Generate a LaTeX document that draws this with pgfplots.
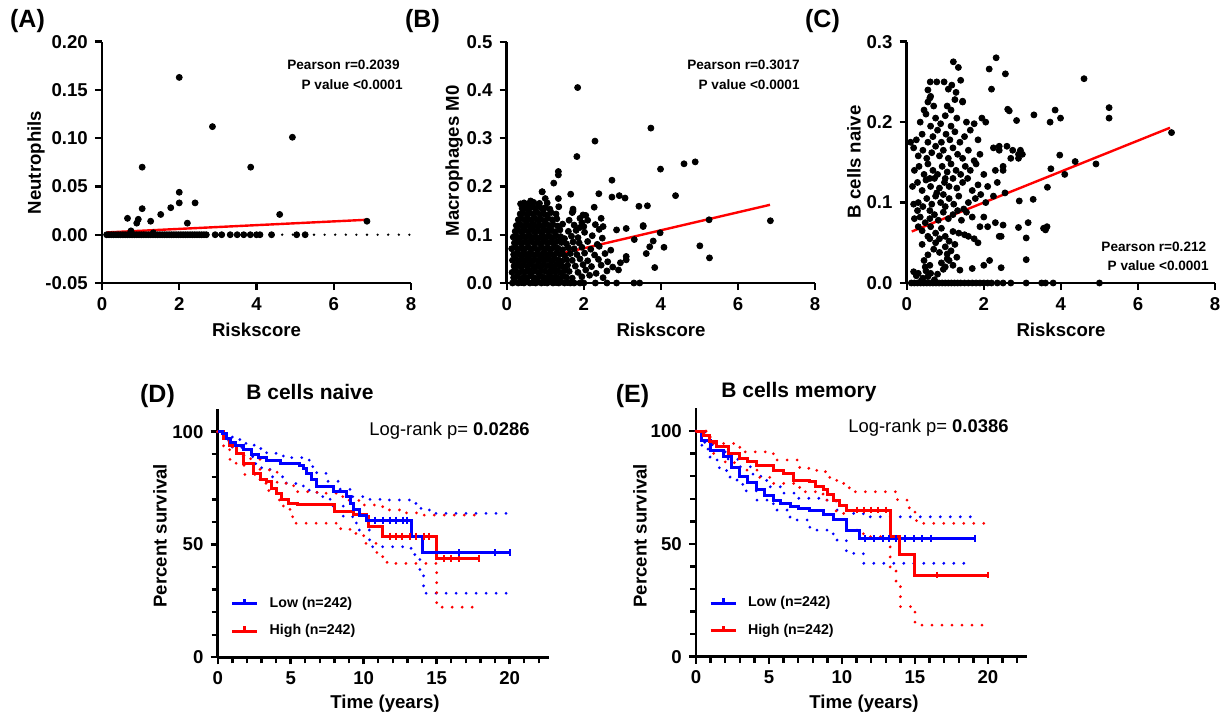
\documentclass[border=0pt]{standalone}
\usepackage{pgfplots}
\pgfplotsset{compat=1.18}
\usepackage{fontspec}
\setmainfont{Liberation Sans}
\definecolor{kmblue}{RGB}{0,0,255}
\definecolor{kmred}{RGB}{255,0,0}

\pgfplotsset{
  prism/.style={
    scale only axis,
    axis lines=left,
    axis line style={-, line width=1.35pt},
    tick style={line width=1.2pt, black},
    tick align=outside,
    major tick length=3.6pt,
    minor tick length=3pt,
    ticklabel style={font=\bfseries\fontsize{9.3}{11}\selectfont},
    clip=false,
  },
  dots/.style={only marks, mark=*, mark size=1.5pt, black, forget plot},
  km/.style={const plot, line width=1.5pt, forget plot},
  ci/.style={const plot, line width=1.55pt, dash pattern=on 0pt off 5pt, line cap=round, forget plot},
  cens/.style={only marks, mark=|, mark size=1.7pt, mark options={line width=1pt}, forget plot},
  kmaxis/.style={
    prism, width=165.7pt, height=124.1pt,
    xmin=0, xmax=22.7, ymin=0, ymax=110,
    xtick={0,5,10,15,20}, xticklabels={0,5,10,15,20},
    ytick={0,50,100}, yticklabels={0,50,100},
    minor xtick={1,2,3,4,6,7,8,9,11,12,13,14,16,17,18,19,21,22},
    minor ytick={10,20,30,40,60,70,80,90},
    legend cell align=left,
    legend image code/.code={
      \draw[##1] (0pt,0pt) -- (12.5pt,0pt);
      \draw[##1] (6.25pt,0pt) -- (6.25pt,2.5pt);
    },
    legend style={draw=none, fill=none, at={(0.02,0.16)}, anchor=west,
      font=\bfseries\fontsize{7.1}{8.5}\selectfont, row sep=3pt,
      nodes={inner xsep=5.5pt}},
  },
}

\begin{document}
\begin{tikzpicture}
\useasboundingbox (0,0) rectangle (611pt,358.5pt);

% ---------- (A) Neutrophils
\begin{axis}[prism, at={(51pt,217pt)}, anchor=south west,
  width=154.5pt, height=120.65pt,
  xmin=0, xmax=8, ymin=-0.05, ymax=0.2,
  xtick={0,2,4,6,8}, xticklabels={0,2,4,6,8},
  ytick={-0.05,0,0.05,0.1,0.15,0.2},
  yticklabels={-0.05,0.00,0.05,0.10,0.15,0.20}]
\addplot[forget plot, black, line width=1.3pt, dash pattern=on 0pt off 5.3pt, line cap=round] coordinates {(0,0) (8,0)};
\addplot[red, line width=1.2pt, forget plot] coordinates {(0.13,0.0024) (6.86,0.0155)};
\addplot[dots] coordinates {
(0.12,0)(0.18,0)(0.24,0)(0.3,0)(0.36,0)(0.42,0)(0.48,0)(0.54,0)(0.6,0)(0.66,0)
(0.72,0)(0.78,0)(0.84,0)(0.9,0)(0.96,0)(1.02,0)(1.08,0)(1.14,0)(1.2,0)(1.26,0)
(1.32,0)(1.38,0)(1.44,0)(1.5,0)(1.56,0)(1.62,0)(1.68,0)(1.74,0)(1.8,0)(1.86,0)
(1.92,0)(1.98,0)(2.04,0)(2.1,0)(2.16,0)(2.22,0)(2.28,0)(2.34,0)(2.4,0)(2.46,0)
(2.52,0)(2.58,0)(2.64,0)(2.7,0)(2.93,0)(3.1,0)(3.32,0)(3.5,0)(3.67,0)(3.84,0)
(4.0,0)(4.09,0)(4.39,0)(5.04,0)(5.26,0)
(0.75,0.004)(1.33,0.002)
(2.0,0.163)(2.86,0.112)(4.93,0.101)(1.04,0.070)(3.85,0.070)(2.0,0.044)(2.0,0.033)
(2.41,0.033)(1.04,0.027)(1.78,0.028)(1.52,0.021)(4.6,0.021)(0.66,0.017)(0.94,0.016)
(0.9,0.012)(1.26,0.014)(2.21,0.012)(6.86,0.014)
};
\end{axis}

% ---------- (B) Macrophages M0
\begin{axis}[prism, at={(253.35pt,217pt)}, anchor=south west,
  width=154.2pt, height=120.65pt,
  xmin=0, xmax=8, ymin=0, ymax=0.5,
  xtick={0,2,4,6,8}, xticklabels={0,2,4,6,8},
  ytick={0,0.1,0.2,0.3,0.4,0.5},
  yticklabels={0.0,0.1,0.2,0.3,0.4,0.5}]
\addplot[red, line width=1.2pt, forget plot] coordinates {(0.13,0.037) (6.83,0.162)};
\addplot[dots] coordinates {
(0.15,0)(0.22,0.002)(0.3,0)(0.38,0.001)(0.45,0)(0.52,0.003)(0.6,0)(0.68,0.001)(0.75,0)(0.82,0.002)
(0.9,0)(0.98,0.001)(1.05,0)(1.12,0.003)(1.2,0)(1.28,0.001)(1.35,0)(1.42,0.002)(1.5,0)(1.58,0.001)
(1.65,0)(1.75,0)(1.9,0)(2.0,0)(2.3,0)(2.6,0)(2.85,0)(3.3,0)(3.45,0)
(0.18,0.011)(0.27,0.014)(0.36,0.009)(0.44,0.013)(0.53,0.01)(0.61,0.015)(0.7,0.011)(0.78,0.009)(0.87,0.014)(0.95,0.012)
(1.03,0.01)(1.12,0.015)(1.2,0.011)(1.29,0.013)(1.37,0.009)(1.46,0.014)(1.55,0.012)(1.7,0.01)(1.95,0.013)(2.15,0.016)(2.5,0.011)
(0.14,0.022)(0.23,0.026)(0.31,0.021)(0.4,0.025)(0.48,0.023)(0.57,0.027)(0.65,0.022)(0.74,0.025)(0.82,0.021)(0.91,0.026)
(0.99,0.024)(1.08,0.022)(1.16,0.027)(1.25,0.023)(1.33,0.025)(1.42,0.021)(1.52,0.026)(1.62,0.024)(1.85,0.022)(2.05,0.027)(2.32,0.02)(2.6,0.025)
(0.19,0.035)(0.27,0.038)(0.36,0.034)(0.44,0.037)(0.53,0.035)(0.61,0.039)(0.7,0.034)(0.78,0.036)(0.87,0.033)(0.95,0.038)
(1.04,0.035)(1.12,0.037)(1.21,0.034)(1.29,0.038)(1.38,0.036)(1.47,0.033)(1.58,0.037)(1.78,0.035)(1.98,0.038)(2.2,0.034)(2.45,0.037)(2.75,0.033)
(0.15,0.047)(0.23,0.05)(0.32,0.046)(0.4,0.049)(0.49,0.047)(0.57,0.051)(0.66,0.046)(0.74,0.048)(0.83,0.045)(0.91,0.05)
(1.0,0.047)(1.08,0.049)(1.17,0.046)(1.25,0.05)(1.34,0.048)(1.43,0.045)(1.55,0.049)(1.7,0.047)(1.9,0.05)(2.1,0.046)(2.38,0.049)(2.62,0.044)(2.95,0.042)
(0.18,0.059)(0.27,0.062)(0.35,0.058)(0.44,0.061)(0.52,0.059)(0.61,0.063)(0.69,0.058)(0.78,0.06)(0.86,0.057)(0.95,0.062)
(1.03,0.059)(1.12,0.061)(1.2,0.058)(1.29,0.062)(1.38,0.06)(1.5,0.057)(1.65,0.061)(1.82,0.059)(2.02,0.062)(2.28,0.058)(2.55,0.061)
(0.13,0.071)(0.22,0.074)(0.3,0.07)(0.39,0.073)(0.47,0.071)(0.56,0.075)(0.64,0.07)(0.73,0.072)(0.81,0.069)(0.9,0.074)
(0.98,0.071)(1.07,0.073)(1.15,0.07)(1.24,0.074)(1.33,0.072)(1.45,0.069)(1.6,0.073)(1.75,0.071)(1.95,0.074)(2.18,0.07)(2.4,0.076)(2.7,0.068)
(0.2,0.083)(0.28,0.086)(0.37,0.082)(0.45,0.085)(0.54,0.083)(0.62,0.087)(0.71,0.082)(0.79,0.084)(0.88,0.081)(0.96,0.086)
(1.05,0.083)(1.13,0.085)(1.22,0.082)(1.31,0.086)(1.42,0.084)(1.55,0.081)(1.72,0.085)(1.88,0.083)(2.1,0.086)(2.35,0.08)
(0.17,0.095)(0.25,0.098)(0.34,0.094)(0.42,0.097)(0.51,0.095)(0.59,0.099)(0.68,0.094)(0.76,0.096)(0.85,0.093)(0.93,0.098)
(1.02,0.095)(1.1,0.097)(1.19,0.094)(1.28,0.098)(1.4,0.096)(1.5,0.092)(1.68,0.097)(1.85,0.094)(2.22,0.098)(2.48,0.093)
(0.22,0.107)(0.3,0.11)(0.39,0.106)(0.47,0.109)(0.56,0.107)(0.64,0.111)(0.73,0.106)(0.81,0.108)(0.9,0.105)(0.98,0.11)
(1.07,0.107)(1.16,0.109)(1.25,0.106)(1.38,0.11)(1.6,0.107)(1.8,0.109)(2.02,0.105)(2.4,0.111)
(0.25,0.119)(0.34,0.122)(0.42,0.118)(0.51,0.121)(0.59,0.119)(0.68,0.123)(0.76,0.118)(0.85,0.12)(0.93,0.117)(1.02,0.122)
(1.1,0.119)(1.2,0.121)(1.32,0.118)(1.45,0.122)(1.75,0.12)(2.0,0.117)(2.3,0.121)
(0.3,0.131)(0.38,0.134)(0.47,0.13)(0.55,0.133)(0.64,0.131)(0.72,0.135)(0.81,0.13)(0.89,0.132)(0.98,0.129)(1.07,0.134)
(1.18,0.131)(1.3,0.133)(1.62,0.13)(1.9,0.134)(2.1,0.13)
(0.35,0.143)(0.43,0.146)(0.52,0.142)(0.6,0.145)(0.69,0.143)(0.78,0.147)(0.86,0.142)(0.95,0.144)(1.04,0.141)(1.15,0.146)
(1.28,0.143)(1.7,0.146)(1.98,0.141)
(0.4,0.155)(0.48,0.158)(0.57,0.154)(0.65,0.157)(0.74,0.155)(0.83,0.159)(0.92,0.154)(1.0,0.156)(1.12,0.153)(1.35,0.158)
(0.36,0.164)(0.45,0.166)(0.55,0.163)(0.7,0.167)(0.85,0.165)(1.05,0.166)(0.92,0.189)(1.0,0.175)(0.62,0.17)
(1.84,0.405)(3.74,0.321)(2.29,0.294)(1.82,0.262)(4.89,0.251)(4.60,0.247)(3.99,0.236)(1.34,0.231)(1.34,0.224)(1.22,0.207)
(2.73,0.213)(4.38,0.181)(2.39,0.185)(1.66,0.184)(2.92,0.181)(2.73,0.178)(3.07,0.176)(0.92,0.189)(1.34,0.175)(3.43,0.159)
(3.65,0.160)(2.27,0.157)(1.72,0.153)(1.72,0.149)(5.25,0.131)(6.84,0.129)(2.45,0.134)(3.54,0.119)(3.54,0.117)(3.10,0.113)
(2.85,0.110)(2.5,0.117)(3.98,0.104)(3.31,0.090)(3.8,0.087)(5.01,0.077)(4.08,0.074)(3.71,0.075)(3.62,0.061)(3.1,0.055)
(5.26,0.052)(3.84,0.032)(2.9,0.027)(3.1,0.048)(1.9,0.115)(1.95,0.125)(2.05,0.14)
};
\end{axis}

% ---------- (C) B cells naive
\begin{axis}[prism, at={(453.35pt,217pt)}, anchor=south west,
  width=154.2pt, height=120.65pt,
  xmin=0, xmax=8, ymin=0, ymax=0.3,
  xtick={0,2,4,6,8}, xticklabels={0,2,4,6,8},
  ytick={0,0.1,0.2,0.3},
  yticklabels={0.0,0.1,0.2,0.3}]
\addplot[dots] coordinates {
(0.12,0)(0.2,0)(0.28,0)(0.36,0)(0.44,0)(0.52,0)(0.6,0)(0.68,0)(0.76,0)(0.84,0)
(0.92,0)(1.0,0)(1.08,0)(1.16,0)(1.24,0)(1.32,0)(1.4,0)(1.5,0)(1.6,0)(1.7,0)
(1.8,0)(1.9,0)(2.0,0)(2.1,0)(2.2,0)(2.35,0)(2.5,0)(2.7,0)(3.1,0)(3.5,0)(3.6,0)(3.8,0)(5.0,0)
(0.3,0.012)(0.42,0.006)(0.5,0.015)(0.38,0.003)(0.55,0.008)(0.62,0.012)(0.72,0.004)(0.8,0.011)(0.48,0.02)(0.18,0.014)(0.25,0.009)
(0.45,0.028)(0.6,0.022)(0.9,0.025)(1.0,0.02)(1.1,0.028)(1.2,0.022)(1.38,0.016)(1.7,0.018)(2.0,0.022)(2.15,0.028)(1.05,0.03)(0.95,0.017)
(0.55,0.035)(0.7,0.042)(0.85,0.038)(1.0,0.045)(1.15,0.04)(1.25,0.048)(0.4,0.048)(0.75,0.05)(1.05,0.036)(1.3,0.032)(0.6,0.055)
(0.4,0.065)(0.55,0.058)(0.62,0.07)(0.75,0.062)(0.9,0.068)(1.0,0.058)(1.2,0.064)(1.35,0.062)(1.5,0.06)(1.6,0.058)
(1.75,0.055)(1.85,0.05)(0.3,0.07)(0.85,0.055)(1.1,0.052)(2.4,0.058)(2.1,0.07)(2.3,0.075)
(0.2,0.08)(0.35,0.082)(0.48,0.075)(0.6,0.08)(0.72,0.085)(0.82,0.078)(0.95,0.088)(1.08,0.08)(1.2,0.085)(1.32,0.09)
(1.42,0.078)(1.55,0.088)(1.7,0.082)(1.9,0.07)(2.0,0.082)(2.5,0.072)(0.28,0.09)
(0.18,0.098)(0.3,0.1)(0.42,0.095)(0.52,0.105)(0.65,0.098)(0.75,0.108)(0.88,0.1)(1.0,0.095)(1.1,0.105)(1.22,0.098)
(1.35,0.108)(1.48,0.092)(1.6,0.1)(1.78,0.105)(1.92,0.11)(2.05,0.1)(2.25,0.108)(0.6,0.09)(0.95,0.11)
(0.15,0.12)(0.28,0.125)(0.4,0.115)(0.5,0.128)(0.62,0.12)(0.72,0.13)(0.85,0.118)(0.98,0.125)(1.1,0.12)(1.2,0.13)
(1.3,0.118)(1.45,0.125)(1.58,0.13)(1.7,0.115)(1.85,0.122)(2.1,0.12)(2.35,0.125)(2.55,0.112)(0.78,0.112)
(0.2,0.14)(0.32,0.145)(0.45,0.135)(0.55,0.148)(0.68,0.14)(0.8,0.135)(0.92,0.145)(1.05,0.138)(1.15,0.148)(1.28,0.14)
(1.4,0.135)(1.52,0.145)(1.65,0.14)(1.8,0.148)(2.0,0.135)(2.3,0.14)(2.5,0.145)(0.6,0.13)(1.0,0.13)
(0.3,0.158)(0.42,0.165)(0.52,0.155)(0.65,0.162)(0.75,0.17)(0.85,0.158)(0.95,0.165)(1.08,0.155)(1.2,0.168)(1.32,0.16)
(1.45,0.155)(1.6,0.165)(1.75,0.152)(1.9,0.16)(2.25,0.168)(2.4,0.165)(2.75,0.165)(2.9,0.16)(2.7,0.155)(0.18,0.168)
(0.25,0.178)(0.4,0.185)(0.55,0.175)(0.68,0.182)(0.8,0.19)(0.9,0.175)(1.02,0.185)(1.12,0.178)(1.25,0.188)(1.38,0.175)
(1.5,0.182)(1.65,0.19)(1.85,0.178)(0.1,0.175)
(0.35,0.2)(0.5,0.21)(0.62,0.195)(0.75,0.205)(0.88,0.198)(1.0,0.208)(1.15,0.195)(1.3,0.205)(1.55,0.2)(1.95,0.205)
(2.05,0.2)(1.75,0.198)
(0.45,0.215)(0.55,0.225)(0.7,0.22)(1.05,0.22)(1.25,0.228)(1.45,0.225)(0.6,0.23)(1.15,0.215)
(0.55,0.24)(0.62,0.232)(1.28,0.237)(1.45,0.226)
(2.32,0.28)(1.21,0.275)(1.34,0.268)(2.14,0.266)(2.56,0.26)(4.6,0.254)(1.4,0.252)(0.61,0.25)(0.78,0.25)(0.97,0.25)
(2.2,0.241)(1.08,0.241)(1.17,0.246)(5.25,0.218)(5.25,0.205)(3.85,0.215)(3.3,0.209)(3.99,0.205)(3.72,0.2)(2.85,0.202)
(2.66,0.214)(2.62,0.216)(6.87,0.187)(4.91,0.148)(4.37,0.151)(3.97,0.159)(3.74,0.142)(4.1,0.135)(3.28,0.104)(3.65,0.119)
(2.92,0.102)(3.15,0.075)(3.6,0.066)(3.64,0.07)(3.55,0.068)(2.9,0.069)(3.1,0.056)(3.1,0.029)(2.45,0.019)(2.45,0.058)
(2.95,0.165)(2.9,0.155)(3.0,0.16)(2.6,0.17)(2.4,0.17)(2.5,0.14)
};
\addplot[red, line width=1.2pt, forget plot] coordinates {(0.13,0.064) (6.83,0.193)};
\end{axis}

% ---------- (D) B cells naive, survival
\begin{axis}[kmaxis, at={(108.85pt,29.85pt)}, anchor=south west]
\addlegendimage{kmblue, line width=1.5pt}
\addlegendentry{Low (n=242)}
\addlegendimage{kmred, line width=1.5pt}
\addlegendentry{High (n=242)}
% blue CI
\addplot[ci, kmblue] coordinates {(0,100)(0.5,98)(1.0,96.5)(1.75,94.8)(2.5,92.5)(3.35,90.4)(4.5,88.5)(5.87,87.4)(6.3,84.5)(6.78,81.5)(7.5,78)(8.3,74.5)(9.06,71.2)(10.2,70)(11.34,69.7)(13.2,68.2)(13.8,66)(14.5,63.8)(20,63.0)};
\addplot[ci, kmblue] coordinates {(0,100)(0.5,96)(1.0,93)(1.75,88.9)(2.6,84)(3.58,80)(4.7,77)(5.87,74.1)(6.8,71.2)(7.7,67)(8.6,62.3)(9.5,56.4)(10.4,49)(13.2,48.3)(13.5,43.9)(13.85,37.2)(14.1,28.4)(20,28)};
% red CI
\addplot[ci, kmred] coordinates {(0,100)(0.4,97)(0.84,93.3)(1.8,88)(2.9,83)(4.07,77.1)(5.2,73.4)(6.8,72.7)(8.15,71.2)(9.0,69.5)(10.0,67.5)(11.3,65.3)(12.5,64)(14.1,63.0)(17.85,62.3)};
\addplot[ci, kmred] coordinates {(0,100)(0.4,92)(0.84,86)(1.8,81)(2.9,77.1)(3.5,73)(4.07,69.7)(4.5,66)(4.95,62.3)(5.3,59.4)(7.7,59.4)(8.4,57)(9.06,54.9)(10.0,50.5)(10.9,44.6)(11.6,41.6)(15.0,22.2)(17.85,22.2)};
% curves
\addplot[km, kmred] coordinates {(0,100)(0.4,97)(0.8,94)(1.3,90.4)(1.8,86)(2.44,81.5)(2.9,79)(3.35,77.8)(3.7,75)(4.04,72.7)(4.4,70)(4.84,68.2)(5.5,67.8)(7.7,67.5)(8.03,64.5)(9.3,63.3)(10.2,62.3)(10.3,57.9)(11.3,53.7)(15.0,43.9)(17.9,43.9)};
\addplot[cens, kmred] coordinates {(11.8,53.7)(12.2,53.7)(12.6,53.7)(13.2,53.7)(13.6,53.7)(14.1,53.7)(14.5,53.7)(15.5,43.9)(16.0,43.9)(16.5,43.9)(17.9,43.9)};
\addplot[km, kmblue] coordinates {(0,100)(0.3,99)(0.6,97)(0.9,95)(1.2,94)(1.75,92)(2.3,90)(2.8,88.5)(3.35,87.4)(4.3,85.8)(5.6,85.2)(5.9,83.5)(6.1,81.5)(6.4,79)(6.8,75.6)(7.9,73.4)(8.8,71.2)(9.1,68)(9.3,65.3)(9.7,63)(10.2,60.8)(13.3,53.4)(14.0,46.4)(20.0,46.4)};
\addplot[cens, kmblue] coordinates {(10.8,60.8)(11.3,60.8)(11.8,60.8)(12.2,60.8)(12.7,60.8)(13.0,60.8)(16.5,46.4)(19.0,46.4)(20,46.4)};
\end{axis}

% ---------- (E) B cells memory, survival
\begin{axis}[kmaxis, at={(348pt,30.15pt)}, anchor=south west]
\addlegendimage{kmblue, line width=1.5pt}
\addlegendentry{Low (n=242)}
\addlegendimage{kmred, line width=1.5pt}
\addlegendentry{High (n=242)}
\addplot[ci, kmblue] coordinates {(0,100)(0.6,94)(1.42,90.8)(2.2,87.5)(3.0,84.2)(3.9,80)(4.84,75.3)(5.8,72.5)(6.9,70.2)(8.7,69.4)(9.6,65.0)(10.5,63.5)(11.46,62.0)(19.0,62.0)};
\addplot[ci, kmblue] coordinates {(0,100)(0.4,92)(0.96,87.2)(1.6,82.5)(2.33,78.3)(3.2,73.5)(4.16,69.4)(5.3,65)(6.44,60.6)(7.8,56.1)(9.4,51.7)(10.3,45.8)(11.46,41.4)(18.8,41.4)};
\addplot[ci, kmred] coordinates {(0,100)(0.96,94.5)(3.0,90.8)(5.3,87.2)(7.1,83.5)(8.27,82.0)(9.0,79.5)(9.64,76.8)(10.5,73.1)(13.06,73.1)(13.8,69.4)(14.5,66)(15.0,62.8)(15.1,59.1)(20,59.1)};
\addplot[ci, kmred] coordinates {(0,100)(0.96,90.1)(2.0,86)(3.0,82.7)(4.2,79.5)(5.3,76.8)(7.1,73.1)(8.7,69.4)(9.6,63.5)(10.3,56.1)(11.46,53.2)(13.3,38.4)(13.7,33)(14.0,22.2)(15.0,14.0)(20,14.0)};
\addplot[km, kmblue] coordinates {(0,100)(0.4,96)(0.96,91.6)(1.87,88.6)(2.4,84)(3.0,79.8)(3.5,77)(4.16,73.9)(4.7,71.5)(5.3,69.4)(5.8,67.8)(6.44,66.5)(7.0,65.5)(7.8,65.0)(8.7,63.0)(9.4,60.6)(10.3,56.1)(11.2,52.5)(19.1,52.5)};
\addplot[cens, kmblue] coordinates {(11.6,52.5)(12.2,52.5)(12.8,52.5)(13.2,52.5)(13.7,52.5)(14.3,52.5)(14.9,52.5)(15.5,52.5)(16.1,52.5)(19.1,52.5)};
\addplot[km, kmred] coordinates {(0,100)(0.5,98)(0.9,95.5)(1.42,93)(2.2,90)(3.0,87.9)(3.5,86.5)(4.16,84.9)(5.3,82.7)(6.0,81.3)(6.66,78.3)(7.8,77.5)(8.2,75.5)(8.7,73.9)(9.0,72)(9.4,69.4)(9.8,67)(10.3,65.0)(13.3,53.2)(13.97,45.1)(15.0,36.2)(20,36.2)};
\addplot[cens, kmred] coordinates {(11.0,65)(11.5,65)(12.0,65)(12.5,65)(13.0,65)(16.5,36.2)(20,36.2)};
\end{axis}

% ---------- text
\begin{scope}[font=\bfseries]
\node[font=\bfseries\fontsize{12.5}{14}\selectfont] at (13.75pt,347.75pt) {(A)};
\node[font=\bfseries\fontsize{12.5}{14}\selectfont] at (211.25pt,347.75pt) {(B)};
\node[font=\bfseries\fontsize{12.5}{14}\selectfont] at (411.25pt,347.75pt) {(C)};
\node[font=\bfseries\fontsize{12.5}{14}\selectfont] at (78.75pt,160.25pt) {(D)};
\node[font=\bfseries\fontsize{12.5}{14}\selectfont] at (316.25pt,160.25pt) {(E)};
\node[font=\bfseries\fontsize{10.5}{12}\selectfont] at (155pt,162.5pt) {B cells naive};
\node[font=\bfseries\fontsize{10.5}{12}\selectfont] at (399.5pt,162.5pt) {B cells memory};
\node[rotate=90, font=\bfseries\fontsize{9.3}{11}\selectfont] at (18pt,277.25pt) {Neutrophils};
\node[rotate=90, font=\bfseries\fontsize{9.3}{11}\selectfont] at (227pt,278.1pt) {Macrophages M0};
\node[rotate=90, font=\bfseries\fontsize{9.3}{11}\selectfont] at (427pt,277.6pt) {B cells naive};
\node[font=\bfseries\fontsize{9.3}{11}\selectfont] at (128.25pt,193.5pt) {Riskscore};
\node[font=\bfseries\fontsize{9.3}{11}\selectfont] at (330.5pt,193.5pt) {Riskscore};
\node[font=\bfseries\fontsize{9.3}{11}\selectfont] at (530.5pt,193.5pt) {Riskscore};
\node[rotate=90, font=\bfseries\fontsize{9.3}{11}\selectfont] at (80pt,90.6pt) {Percent survival};
\node[rotate=90, font=\bfseries\fontsize{9.3}{11}\selectfont] at (320pt,90.6pt) {Percent survival};
\node[font=\bfseries\fontsize{9.3}{11}\selectfont] at (192.5pt,6.5pt) {Time (years)};
\node[font=\bfseries\fontsize{9.3}{11}\selectfont] at (432pt,6.5pt) {Time (years)};
\node[anchor=east, inner sep=0pt, font=\bfseries\fontsize{6.8}{8}\selectfont] at (200pt,326pt) {Pearson r=0.2039};
\node[anchor=east, inner sep=0pt, font=\bfseries\fontsize{6.8}{8}\selectfont] at (201.5pt,316pt) {P value <0.0001};
\node[anchor=east, inner sep=0pt, font=\bfseries\fontsize{6.8}{8}\selectfont] at (400pt,326pt) {Pearson r=0.3017};
\node[anchor=east, inner sep=0pt, font=\bfseries\fontsize{6.8}{8}\selectfont] at (400pt,316pt) {P value <0.0001};
\node[anchor=east, inner sep=0pt, font=\bfseries\fontsize{6.8}{8}\selectfont] at (603.3pt,235.2pt) {Pearson r=0.212};
\node[anchor=east, inner sep=0pt, font=\bfseries\fontsize{6.8}{8}\selectfont] at (604.5pt,225.75pt) {P value <0.0001};
\end{scope}
\node[anchor=west, inner sep=0pt, font=\fontsize{9.2}{11}\selectfont] at (184.5pt,143pt) {Log-rank p= \textbf{0.0286}};
\node[anchor=west, inner sep=0pt, font=\fontsize{9.2}{11}\selectfont] at (424pt,144.5pt) {Log-rank p= \textbf{0.0386}};
\end{tikzpicture}
\end{document}
